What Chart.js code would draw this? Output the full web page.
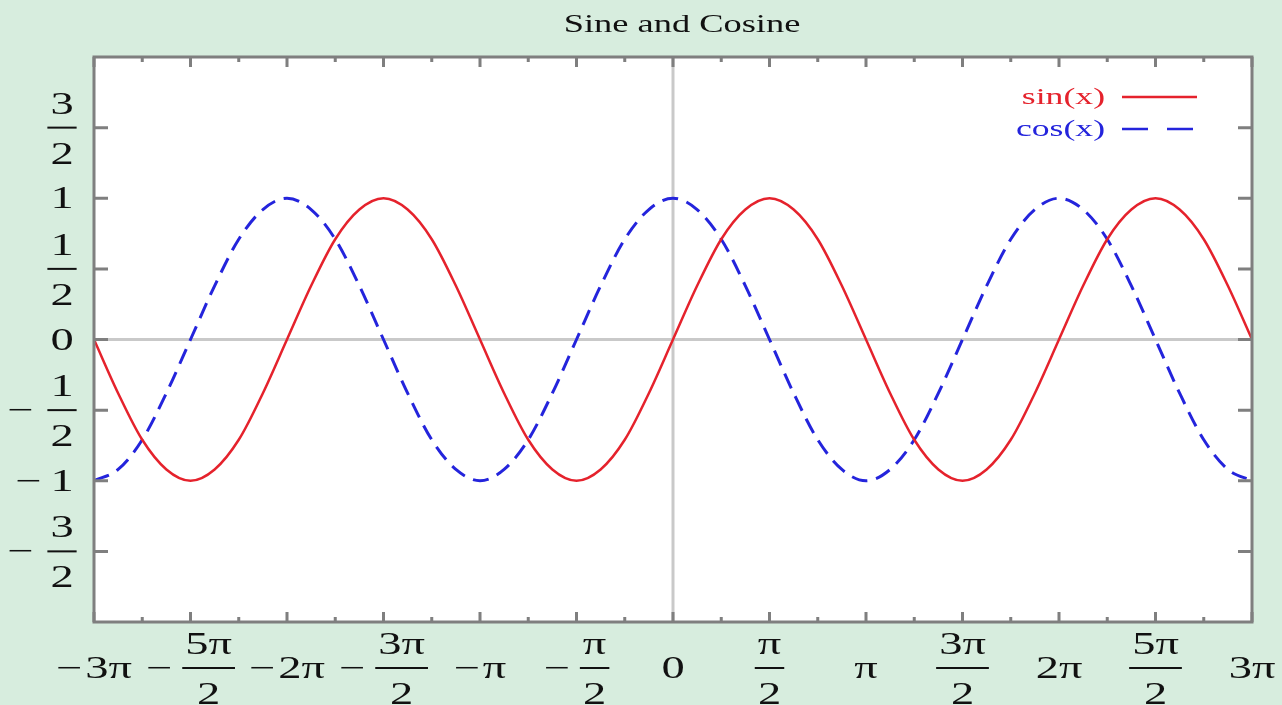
<!DOCTYPE html>
<html>
<head>
<meta charset="utf-8">
<title>Sine and Cosine</title>
<script src="https://cdn.jsdelivr.net/npm/chart.js@4.4.1/dist/chart.umd.min.js"></script>
<style>
    body { margin: 0; background: #d7edde; }
    #wrap { width: 1282px; height: 705px; }
</style>
</head>
<body>
<div id="wrap"><canvas id="trigChart" width="1282" height="705"></canvas></div>
<script>
// x in multiples of pi
const xValues = [-3, -2.875, -2.75, -2.625, -2.5, -2.375, -2.25, -2.125,
    -2, -1.875, -1.75, -1.625, -1.5, -1.375, -1.25, -1.125,
    -1, -0.875, -0.75, -0.625, -0.5, -0.375, -0.25, -0.125,
    0, 0.125, 0.25, 0.375, 0.5, 0.625, 0.75, 0.875,
    1, 1.125, 1.25, 1.375, 1.5, 1.625, 1.75, 1.875,
    2, 2.125, 2.25, 2.375, 2.5, 2.625, 2.75, 2.875, 3];

const sinValues = [0, -0.38, -0.71, -0.92, -1, -0.92, -0.71, -0.38,
    0, 0.38, 0.71, 0.92, 1, 0.92, 0.71, 0.38,
    0, -0.38, -0.71, -0.92, -1, -0.92, -0.71, -0.38,
    0, 0.38, 0.71, 0.92, 1, 0.92, 0.71, 0.38,
    0, -0.38, -0.71, -0.92, -1, -0.92, -0.71, -0.38,
    0, 0.38, 0.71, 0.92, 1, 0.92, 0.71, 0.38, 0];

const cosValues = [-1, -0.92, -0.71, -0.38, 0, 0.38, 0.71, 0.92,
    1, 0.92, 0.71, 0.38, 0, -0.38, -0.71, -0.92,
    -1, -0.92, -0.71, -0.38, 0, 0.38, 0.71, 0.92,
    1, 0.92, 0.71, 0.38, 0, -0.38, -0.71, -0.92,
    -1, -0.92, -0.71, -0.38, 0, 0.38, 0.71, 0.92,
    1, 0.92, 0.71, 0.38, 0, -0.38, -0.71, -0.92, -1];

const xTicks = [-3, -2.5, -2, -1.5, -1, -0.5, 0, 0.5, 1, 1.5, 2, 2.5, 3];
const xTickLabels = ["−3π", "−5π/2", "−2π", "−3π/2", "−π", "−π/2", "0", "π/2", "π", "3π/2", "2π", "5π/2", "3π"];
const yTicks = [-1.5, -1, -0.5, 0, 0.5, 1, 1.5];
const yTickLabels = ["−3/2", "−1", "−1/2", "0", "1/2", "1", "3/2"];

const chartTitle = "Sine and Cosine";
const FONT = "'Liberation Serif', 'DejaVu Serif', serif";

function stretchText(ctx, text, x, y, sx, align) {
    ctx.save();
    ctx.translate(x, y);
    ctx.scale(sx, 1);
    ctx.textAlign = align;
    ctx.fillText(text, 0, 0);
    ctx.restore();
}

// draws "−3π", "5π/2", "−1/2" ... around (cx, cy); mode "x" centres the whole label, mode "y" centres the number only
function drawMathLabel(ctx, str, cx, cy, mode) {
    const sx = 1.5;
    ctx.font = "31px " + FONT;
    ctx.fillStyle = "#111";
    let minus = false;
    let body = str;
    if (body.startsWith("−")) { minus = true; body = body.slice(1); }
    const parts = body.split("/");
    const isFrac = parts.length === 2;
    const minusW = ctx.measureText("−").width * sx;
    let bodyW;
    if (isFrac) {
        bodyW = Math.max(ctx.measureText(parts[0]).width, ctx.measureText(parts[1]).width) * sx + 6;
    } else {
        bodyW = ctx.measureText(body).width * sx;
    }
    let gap = 0;
    if (minus) {
        if (mode === "x") gap = isFrac ? 10 : 3;
        else gap = isFrac ? 14 : 9;
    }
    let bodyCx;
    if (mode === "x") {
        const total = bodyW + (minus ? minusW + gap : 0);
        bodyCx = cx + total / 2 - bodyW / 2;
    } else {
        bodyCx = cx;
    }
    if (minus) {
        stretchText(ctx, "−", bodyCx - bodyW / 2 - gap - minusW / 2, cy + 10, sx, "center");
    }
    if (isFrac) {
        stretchText(ctx, parts[0], bodyCx, cy - 14, sx, "center");
        stretchText(ctx, parts[1], bodyCx, cy + 36, sx, "center");
        ctx.fillRect(bodyCx - bodyW / 2, cy - 1, bodyW, 2);
    } else {
        stretchText(ctx, body, bodyCx, cy + 10, sx, "center");
    }
}

const decorPlugin = {
    id: "decor",
    beforeDraw(chart) {
        const ctx = chart.ctx;
        const a = chart.chartArea;
        ctx.save();
        ctx.fillStyle = "#d7edde";
        ctx.fillRect(0, 0, chart.width, chart.height);
        ctx.fillStyle = "#ffffff";
        ctx.fillRect(a.left, a.top, a.right - a.left, a.bottom - a.top);
        ctx.restore();
    },
    beforeDatasetsDraw(chart) {
        const ctx = chart.ctx;
        const a = chart.chartArea;
        const xs = chart.scales.x;
        const ys = chart.scales.y;
        ctx.save();
        ctx.strokeStyle = "#c9c9c9";
        ctx.lineWidth = 3;
        ctx.beginPath();
        ctx.moveTo(xs.getPixelForValue(0), a.top);
        ctx.lineTo(xs.getPixelForValue(0), a.bottom);
        ctx.moveTo(a.left, ys.getPixelForValue(0));
        ctx.lineTo(a.right, ys.getPixelForValue(0));
        ctx.stroke();
        ctx.restore();
    },
    afterDatasetsDraw(chart) {
        const ctx = chart.ctx;
        const a = chart.chartArea;
        const xs = chart.scales.x;
        const ys = chart.scales.y;
        ctx.save();

        // frame
        ctx.strokeStyle = "#7f7f7f";
        ctx.lineWidth = 3;
        ctx.strokeRect(a.left, a.top, a.right - a.left, a.bottom - a.top);

        // x ticks, major and minor, top and bottom
        ctx.beginPath();
        xTicks.forEach((v, i) => {
            const px = xs.getPixelForValue(v);
            ctx.moveTo(px, a.bottom); ctx.lineTo(px, a.bottom - 10);
            ctx.moveTo(px, a.top); ctx.lineTo(px, a.top + 10);
            if (i < xTicks.length - 1) {
                const mx = xs.getPixelForValue((v + xTicks[i + 1]) / 2);
                ctx.moveTo(mx, a.bottom); ctx.lineTo(mx, a.bottom - 5);
                ctx.moveTo(mx, a.top); ctx.lineTo(mx, a.top + 5);
            }
        });
        // y ticks left and right
        yTicks.forEach(v => {
            const py = ys.getPixelForValue(v);
            ctx.moveTo(a.left, py); ctx.lineTo(a.left + 14, py);
            ctx.moveTo(a.right, py); ctx.lineTo(a.right - 14, py);
        });
        ctx.stroke();

        // tick labels
        xTicks.forEach((v, i) => {
            drawMathLabel(ctx, xTickLabels[i], xs.getPixelForValue(v), a.bottom + 46, "x");
        });
        yTicks.forEach((v, i) => {
            drawMathLabel(ctx, yTickLabels[i], a.left - 32, ys.getPixelForValue(v), "y");
        });

        // title
        ctx.fillStyle = "#111";
        ctx.font = "26px " + FONT;
        stretchText(ctx, chartTitle, (a.left + a.right) / 2 + 9, 32, 1.4, "center");

        // legend, text on the left of the line sample
        const dashes = [[], [26, 19]];
        chart.data.datasets.forEach((ds, i) => {
            const y = a.top + 40 + i * 32;
            ctx.font = "23px " + FONT;
            ctx.fillStyle = ds.borderColor;
            stretchText(ctx, ds.label, a.right - 147, y + 7, 1.55, "right");
            ctx.strokeStyle = ds.borderColor;
            ctx.lineWidth = 2.5;
            ctx.setLineDash(dashes[i]);
            ctx.beginPath();
            ctx.moveTo(a.right - 130, y);
            ctx.lineTo(a.right - 55, y);
            ctx.stroke();
        });
        ctx.restore();
    }
};

function buildPoints(ys) {
    return xValues.map((x, i) => ({ x: x, y: ys[i] }));
}

new Chart(document.getElementById("trigChart"), {
    type: "line",
    data: {
        datasets: [{
            label: "sin(x)",
            data: buildPoints(sinValues),
            borderColor: "#e5222c",
            borderWidth: 2.5,
            pointRadius: 0,
            cubicInterpolationMode: "monotone",
            fill: false
        }, {
            label: "cos(x)",
            data: buildPoints(cosValues),
            borderColor: "#2424dc",
            borderWidth: 3,
            borderDash: [16, 9],
            pointRadius: 0,
            cubicInterpolationMode: "monotone",
            fill: false
        }]
    },
    options: {
        responsive: false,
        animation: false,
        layout: { padding: { left: 94, right: 30, top: 57, bottom: 83 } },
        plugins: {
            legend: { display: false },
            title: { display: false },
            tooltip: { enabled: false }
        },
        scales: {
            x: { type: "linear", min: -3, max: 3, display: false },
            y: { type: "linear", min: -2, max: 2, display: false }
        }
    },
    plugins: [decorPlugin]
});
</script>
</body>
</html>
